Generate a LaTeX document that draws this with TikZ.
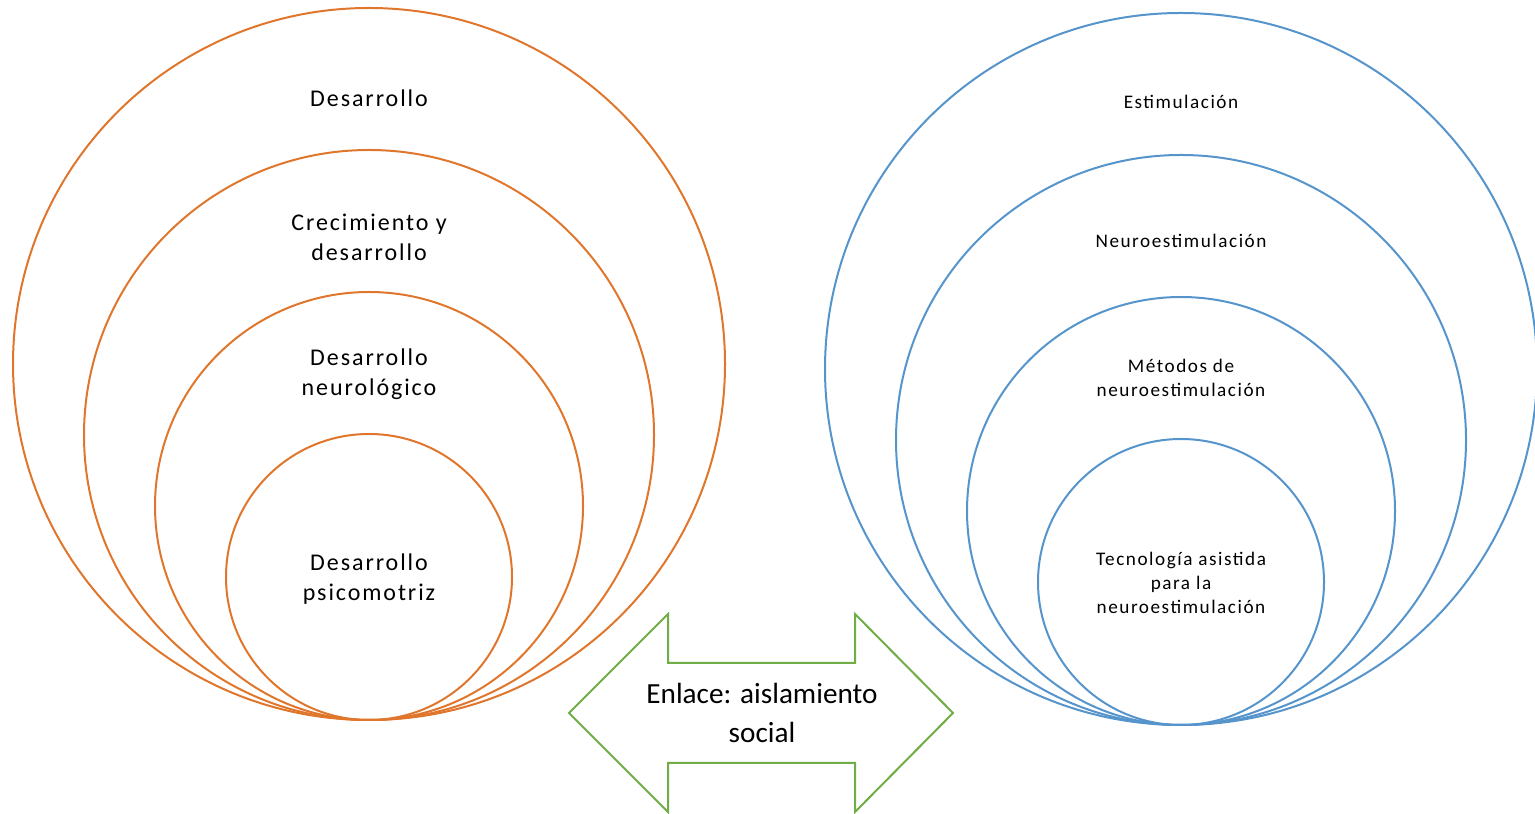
\documentclass[tikz,border=0pt]{standalone}
\usepackage{fontspec}
\setmainfont{Carlito}
\newfontfamily\widefont[LetterSpace=8]{Carlito}
\usepackage{tikz}
\usetikzlibrary{positioning,calc}
\definecolor{ringorange}{RGB}{224,118,44}
\definecolor{ringblue}{RGB}{86,148,204}
\definecolor{linkgreen}{RGB}{112,173,71}

\begin{document}
\begin{tikzpicture}[
  x=0.5pt,y=0.5pt,
  oring/.style={draw=ringorange,line width=1pt},
  bring/.style={draw=ringblue,line width=1pt},
  llab/.style={align=center,font=\widefont\fontsize{12}{15}\selectfont,inner sep=1pt},
  rlab/.style={align=center,font=\widefont\fontsize{9.6}{12}\selectfont,inner sep=1pt},
  link/.style={draw=linkgreen,line width=1pt,line join=miter},
]
  \useasboundingbox (0,0) rectangle (1535,813);

  % Left: desarrollo rings, all touching at the bottom
  \draw[oring] (369,449) circle[radius=356];
  \draw[oring] (369,378) circle[radius=285];
  \draw[oring] (369,307) circle[radius=214];
  \draw[oring] (369,236) circle[radius=143];
  \node[llab] (D1) at (369,715) {Desarrollo};
  \node[llab] (D2) at (369,576) {Crecimiento y\\desarrollo};
  \node[llab] (D3) at (369,439) {Desarrollo\\neurológico};
  \node[llab] (D4) at (369,234) {Desarrollo\\psicomotriz};

  % Right: estimulacion rings
  \draw[bring] (1181,444) circle[radius=356];
  \draw[bring] (1181,373) circle[radius=285];
  \draw[bring] (1181,302) circle[radius=214];
  \draw[bring] (1181,231) circle[radius=143];
  \node[rlab] (E1) at (1181,711) {Estimulación};
  \node[rlab] (E2) at (1181,572) {Neuroestimulación};
  \node[rlab] (E3) at (1181,435) {Métodos de\\neuroestimulación};
  \node[rlab] (E4) at (1181,230) {Tecnología asistida\\para la\\neuroestimulación};

  % Green double arrow between the two families
  \draw[link] (569,100) -- (668,199) -- (668,150) -- (855,150) -- (855,199)
    -- (953,100) -- (855,1) -- (855,50) -- (668,50) -- (668,1) -- cycle;
  \node[align=center,font=\fontsize{14.6}{19.5}\selectfont] (Lnk) at (762,100)
    {Enlace: aislamiento\\social};
\end{tikzpicture}
\end{document}
